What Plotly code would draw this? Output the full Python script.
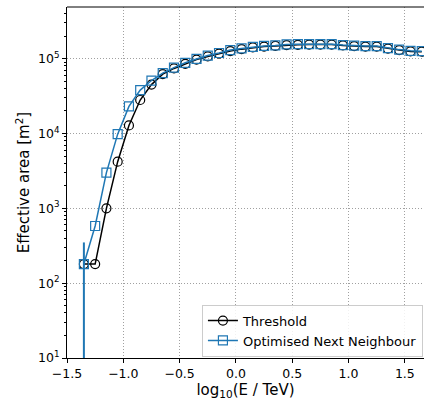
import plotly.graph_objects as go

log_e = [-1.35, -1.25, -1.15, -1.05, -0.95, -0.85, -0.75, -0.65, -0.55, -0.45,
         -0.35, -0.25, -0.15, -0.05, 0.05, 0.15, 0.25, 0.35, 0.45, 0.55,
         0.65, 0.75, 0.85, 0.95, 1.05, 1.15, 1.25, 1.35, 1.45, 1.55, 1.65]

threshold = [180, 180, 1000, 4200, 12800, 28000, 45000, 62000, 74000, 85000,
             97000, 107000, 117000, 126000, 134000, 141000, 145000, 148000, 152000, 153000,
             154000, 154000, 154000, 150000, 147000, 145000, 145000, 136000, 130000, 125000, 124000]

onn = [180, 580, 3000, 9800, 23000, 38000, 51000, 64000, 76000, 88000,
       99000, 110000, 119000, 130000, 137000, 144000, 148000, 150000, 155000, 156000,
       156000, 156000, 156000, 152000, 149000, 147000, 147000, 138000, 132000, 127000, 126000]

onn_err_plus = [170] + [0] * 30
onn_err_minus = [179.5] + [0] * 30
thr_err = [0] * 31

x_ticks = [-1.5, -1.0, -0.5, 0.0, 0.5, 1.0, 1.5]
x_labels = ["\u22121.5", "\u22121.0", "\u22120.5", "0.0", "0.5", "1.0", "1.5"]
y_ticks = [10, 100, 1000, 10000, 100000]
y_labels = ["10<sup>1</sup>", "10<sup>2</sup>", "10<sup>3</sup>", "10<sup>4</sup>", "10<sup>5</sup>"]
y_minor = [m * 10 ** d for d in range(1, 6) for m in range(2, 10)]

blue = "#1f77b4"

fig = go.Figure()
fig.add_trace(go.Scatter(
    x=log_e, y=threshold, mode="lines+markers", name="Threshold",
    line=dict(color="black", width=1.5),
    marker=dict(symbol="circle-open", size=9, color="black", line=dict(width=1.2)),
    error_y=dict(type="data", array=thr_err, color="black", thickness=1.5, width=0),
))
fig.add_trace(go.Scatter(
    x=log_e, y=onn, mode="lines+markers", name="Optimised Next Neighbour",
    line=dict(color=blue, width=1.5),
    marker=dict(symbol="square-open", size=9, color=blue, line=dict(width=1.2)),
    error_y=dict(type="data", symmetric=False, array=onn_err_plus, arrayminus=onn_err_minus,
                 color=blue, thickness=2, width=0),
))

fig.update_layout(
    width=424, height=405,
    margin=dict(l=67, r=0, t=7, b=47),
    plot_bgcolor="white", paper_bgcolor="white",
    font=dict(family="DejaVu Sans", size=12.5, color="black"),
    showlegend=True,
    legend=dict(x=0.997, y=0.004, xanchor="right", yanchor="bottom",
                bgcolor="rgba(255,255,255,0.85)", bordercolor="#cccccc", borderwidth=1,
                font=dict(size=13), tracegroupgap=0, itemwidth=30),
    shapes=[dict(type="line", xref="paper", yref="paper", x0=0, x1=1, y0=1, y1=1,
                 line=dict(color="black", width=1))],
)
fig.update_xaxes(
    range=[-1.5, 1.67], tickvals=x_ticks, ticktext=x_labels,
    showline=True, linecolor="black", linewidth=1,
    ticks="outside", ticklen=4, tickcolor="black",
    showgrid=True, gridcolor="#a0a0a0", griddash="1px,2px", gridwidth=1,
    zeroline=False,
    title=dict(text="log<sub>10</sub>(E / TeV)", standoff=1),
)
fig.update_yaxes(
    type="log", range=[1, 5.69], tickvals=y_ticks, ticktext=y_labels,
    showline=True, linecolor="black", linewidth=1,
    ticks="outside", ticklen=4, tickcolor="black",
    minor=dict(tickvals=y_minor, ticks="outside", ticklen=2, tickcolor="black", showgrid=False),
    showgrid=True, gridcolor="#a0a0a0", griddash="1px,2px", gridwidth=1,
    zeroline=False,
    title=dict(text="Effective area [m<sup>2</sup>]", standoff=4),
)

fig.write_html("out.html", config={"displayModeBar": False},
               post_script="document.body.style.margin='0';document.body.style.overflow='hidden';")
